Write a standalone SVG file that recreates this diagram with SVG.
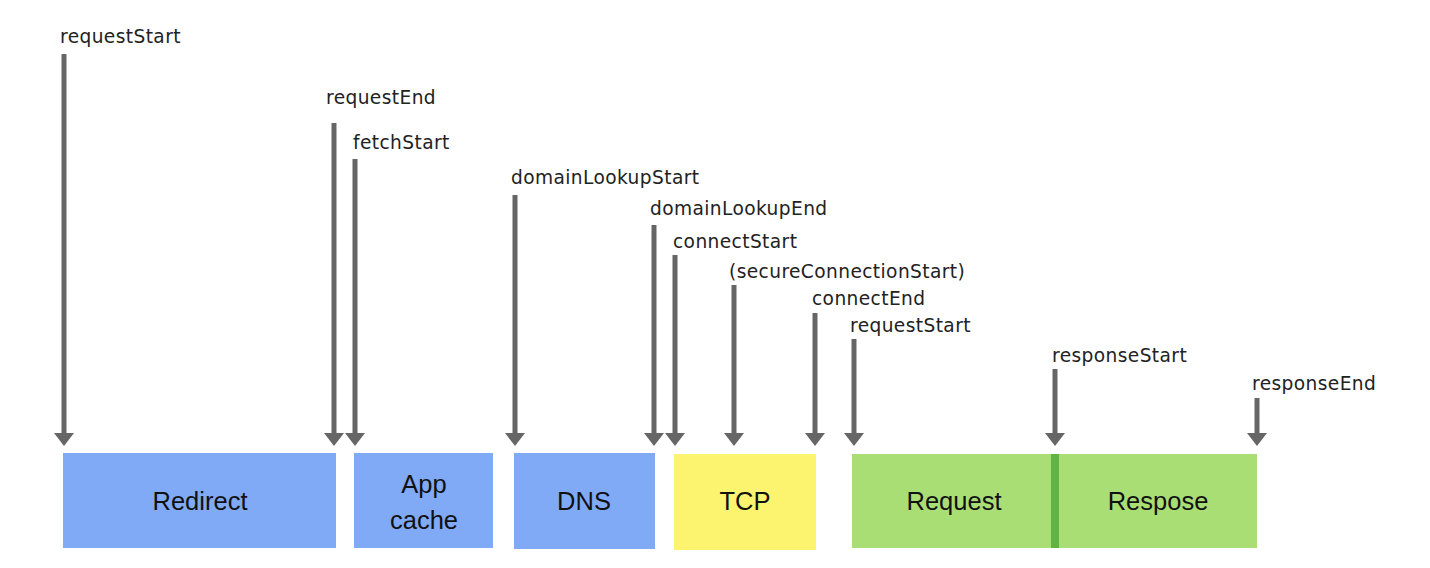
<svg xmlns="http://www.w3.org/2000/svg" width="1430" height="568" viewBox="0 0 1430 568">
<style>
.lbl{font-family:"DejaVu Sans",sans-serif;font-size:18.6px;letter-spacing:0.4px;fill:#222}
.box{font-family:"Liberation Sans",Arial,sans-serif;font-size:25.5px;fill:#111;text-anchor:middle}
.arr{stroke:#666;stroke-width:5;fill:none}
.blue{fill:#80a9f6}
.yellow{fill:#fcf46f}
.green{fill:#a9de75}
</style>
<defs>
<marker id="ah" markerUnits="userSpaceOnUse" markerWidth="13" markerHeight="20" refX="0" refY="10" orient="auto" viewBox="0 0 13 20">
<path d="M0,0 L13,10 L0,20 Z" fill="#666"/>
</marker>
</defs>
<rect width="1430" height="568" fill="#fff"/>
<g id="connectors">
<line class="arr" x1="64" y1="54" x2="64" y2="433" marker-end="url(#ah)"/>
<line class="arr" x1="334" y1="123" x2="334" y2="433" marker-end="url(#ah)"/>
<line class="arr" x1="355" y1="159" x2="355" y2="433" marker-end="url(#ah)"/>
<line class="arr" x1="515" y1="195" x2="515" y2="433" marker-end="url(#ah)"/>
<line class="arr" x1="654" y1="225" x2="654" y2="433" marker-end="url(#ah)"/>
<line class="arr" x1="675" y1="255" x2="675" y2="433" marker-end="url(#ah)"/>
<line class="arr" x1="734" y1="285" x2="734" y2="433" marker-end="url(#ah)"/>
<line class="arr" x1="815" y1="313" x2="815" y2="433" marker-end="url(#ah)"/>
<line class="arr" x1="854" y1="339" x2="854" y2="433" marker-end="url(#ah)"/>
<line class="arr" x1="1055" y1="369" x2="1055" y2="433" marker-end="url(#ah)"/>
<line class="arr" x1="1257" y1="398" x2="1257" y2="433" marker-end="url(#ah)"/>
</g>
<g id="labels">
<text class="lbl" x="60" y="43">requestStart</text>
<text class="lbl" x="326" y="104">requestEnd</text>
<text class="lbl" x="353" y="149">fetchStart</text>
<text class="lbl" x="511" y="184">domainLookupStart</text>
<text class="lbl" x="650" y="215">domainLookupEnd</text>
<text class="lbl" x="673" y="248">connectStart</text>
<text class="lbl" x="729" y="278">(secureConnectionStart)</text>
<text class="lbl" x="812" y="305">connectEnd</text>
<text class="lbl" x="850" y="332">requestStart</text>
<text class="lbl" x="1052" y="362">responseStart</text>
<text class="lbl" x="1252" y="390">responseEnd</text>
</g>
<g id="redirect"><rect class="blue" x="63" y="453" width="273" height="95"/><text class="box" x="200" y="510">Redirect</text></g>
<g id="appcache"><rect class="blue" x="354" y="453" width="139" height="95"/><text class="box" x="424" y="493">App</text><text class="box" x="424" y="529">cache</text></g>
<g id="dns"><rect class="blue" x="514" y="453" width="141" height="96"/><text class="box" x="584" y="510">DNS</text></g>
<g id="tcp"><rect class="yellow" x="674" y="454" width="142" height="96"/><text class="box" x="745" y="510">TCP</text></g>
<g id="request"><rect class="green" x="852" y="454" width="200" height="94"/><text class="box" x="954" y="510">Request</text></g>
<g id="response"><rect class="green" x="1059" y="454" width="198" height="94"/><text class="box" x="1158" y="510">Respose</text></g>
<g id="divider"><rect x="1051" y="454" width="8" height="94" fill="#62b346"/></g>
</svg>
